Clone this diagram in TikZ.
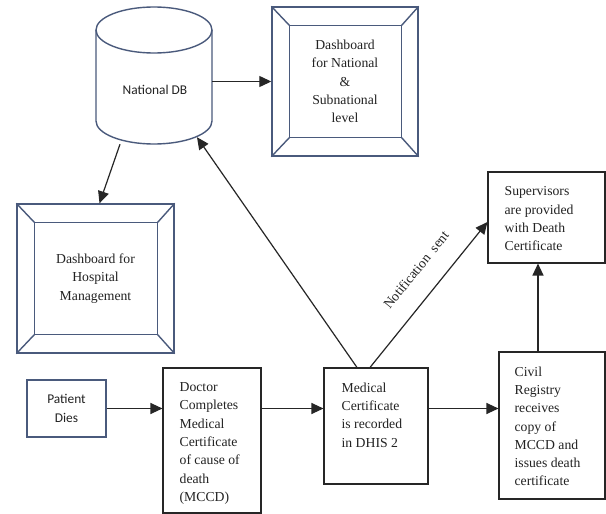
\documentclass[tikz,border=0pt]{standalone}
\usepackage{fontspec}
\setmainfont{Liberation Serif}
\newfontfamily\timesfont{Liberation Serif}
\newfontfamily\calibri{Carlito}
\usetikzlibrary{arrows.meta,calc}
\definecolor{slate}{HTML}{4A5A7C}
\definecolor{ink}{HTML}{222222}

\begin{document}
\begin{tikzpicture}[x=1pt,y=-1pt,
  every node/.style={text=ink},
  serif/.style={font=\timesfont\fontsize{13.7}{18.3}\selectfont},
  sans/.style={font=\calibri\fontsize{13.4}{19}\selectfont},
  plainbox/.style={draw=black!85, line width=1.1pt, inner sep=0pt},
  bluebox/.style={draw=slate, line width=1.4pt, inner sep=0pt},
  boxtext/.style={serif, anchor=north west, inner sep=0pt, align=left},
  arr/.style={draw=black!85, line width=1.2pt, -{Triangle[length=12pt,width=11pt]}},
  bevel/.style={draw=slate, line width=1.4pt},
]
% canvas
\fill[white] (0,0) rectangle (606,514);
\useasboundingbox (0,0) rectangle (606,514);

% national database (cylinder)
\node[minimum width=116pt, minimum height=137pt, inner sep=0pt] (db) at (154,75.5) {};
\draw[bevel] (96,30) -- (96,121) arc[start angle=180, end angle=360, x radius=58pt, y radius=23pt] -- (212,30);
\draw[bevel] (154,30) ellipse [x radius=58pt, y radius=23pt];
\node[sans] (dbt) at (155,90) {National DB};

% bevelled dashboards
\node[bevel, minimum width=146pt, minimum height=149pt, inner sep=0pt] (nd) at (345,81.5) {};
\node[bevel, minimum width=157pt, minimum height=149pt, inner sep=0pt] (hd) at (95.5,278.5) {};
\foreach \b in {nd,hd} {
  \draw[bevel] ($(\b.north west)+(18,19)$) rectangle ($(\b.south east)+(-17,-19)$);
  \draw[bevel] (\b.north west) -- ++(18,19);
  \draw[bevel] (\b.north east) -- ++(-17,19);
  \draw[bevel] (\b.south west) -- ++(18,-19);
  \draw[bevel] (\b.south east) -- ++(-17,-19);
}
\node[serif, align=center] (ndt) at (nd.center) {Dashboard\\for National\\\&\\Subnational\\level};
\node[serif, align=center] (hdt) at (hd.center) {Dashboard for\\Hospital\\Management};

% process boxes
\node[bluebox, minimum width=79pt, minimum height=57pt] (pd) at (66.5,408.5) {};
\node[sans, align=center] (pdt) at (pd.center) {Patient\\Dies};

\node[plainbox, minimum width=98pt, minimum height=145pt] (dr) at (212,440.5) {};
\node[boxtext] (drt) at ($(dr.north west)+(17,15)$) {Doctor\\Completes\\Medical\\Certificate\\of cause of\\death\\(MCCD)};

\node[plainbox, minimum width=104pt, minimum height=116pt] (mc) at (376,426) {};
\node[boxtext] (mct) at ($(mc.north west)+(18,15)$) {Medical\\Certificate\\is recorded\\in DHIS 2};

\node[plainbox, minimum width=106pt, minimum height=147pt] (cr) at (552,425.5) {};
\node[boxtext] (crtx) at ($(cr.north west)+(16,15)$) {Civil\\Registry\\receives\\copy of\\MCCD and\\issues death\\certificate};

\node[plainbox, minimum width=117pt, minimum height=91pt] (sup) at (546.5,217.5) {};
\node[boxtext] (supt) at ($(sup.north west)+(17,15)$) {Supervisors\\are provided\\with Death\\Certificate};

% connectors
\draw[arr] (db.east |- nd.west) -- (nd.west);
\draw[arr] ($(db.south)+(-34,0)$) -- ($(hd.north)+(4,0)$);
\draw[arr] ($(mc.north)+(-19,0)$) -- ($(db.south)+(43,-7)$);
\draw[arr] ($(mc.north)+(-6,0)$) -- node[serif, sloped, above=20pt, inner sep=0pt, pos=0.56] (ns) {Notification\ \ sent} ($(sup.west)+(0,4.5)$);
\draw[arr] (pd.east) -- (pd.east -| dr.west);
\draw[arr] (dr.east |- pd.east) -- (mc.west |- pd.east);
\draw[arr] (mc.east |- pd.east) -- (cr.west |- pd.east);
\coordinate (crtop) at ($(cr.north)+(-14,0)$);
\draw[arr] (crtop) -- (crtop |- sup.south);
\end{tikzpicture}
\end{document}
